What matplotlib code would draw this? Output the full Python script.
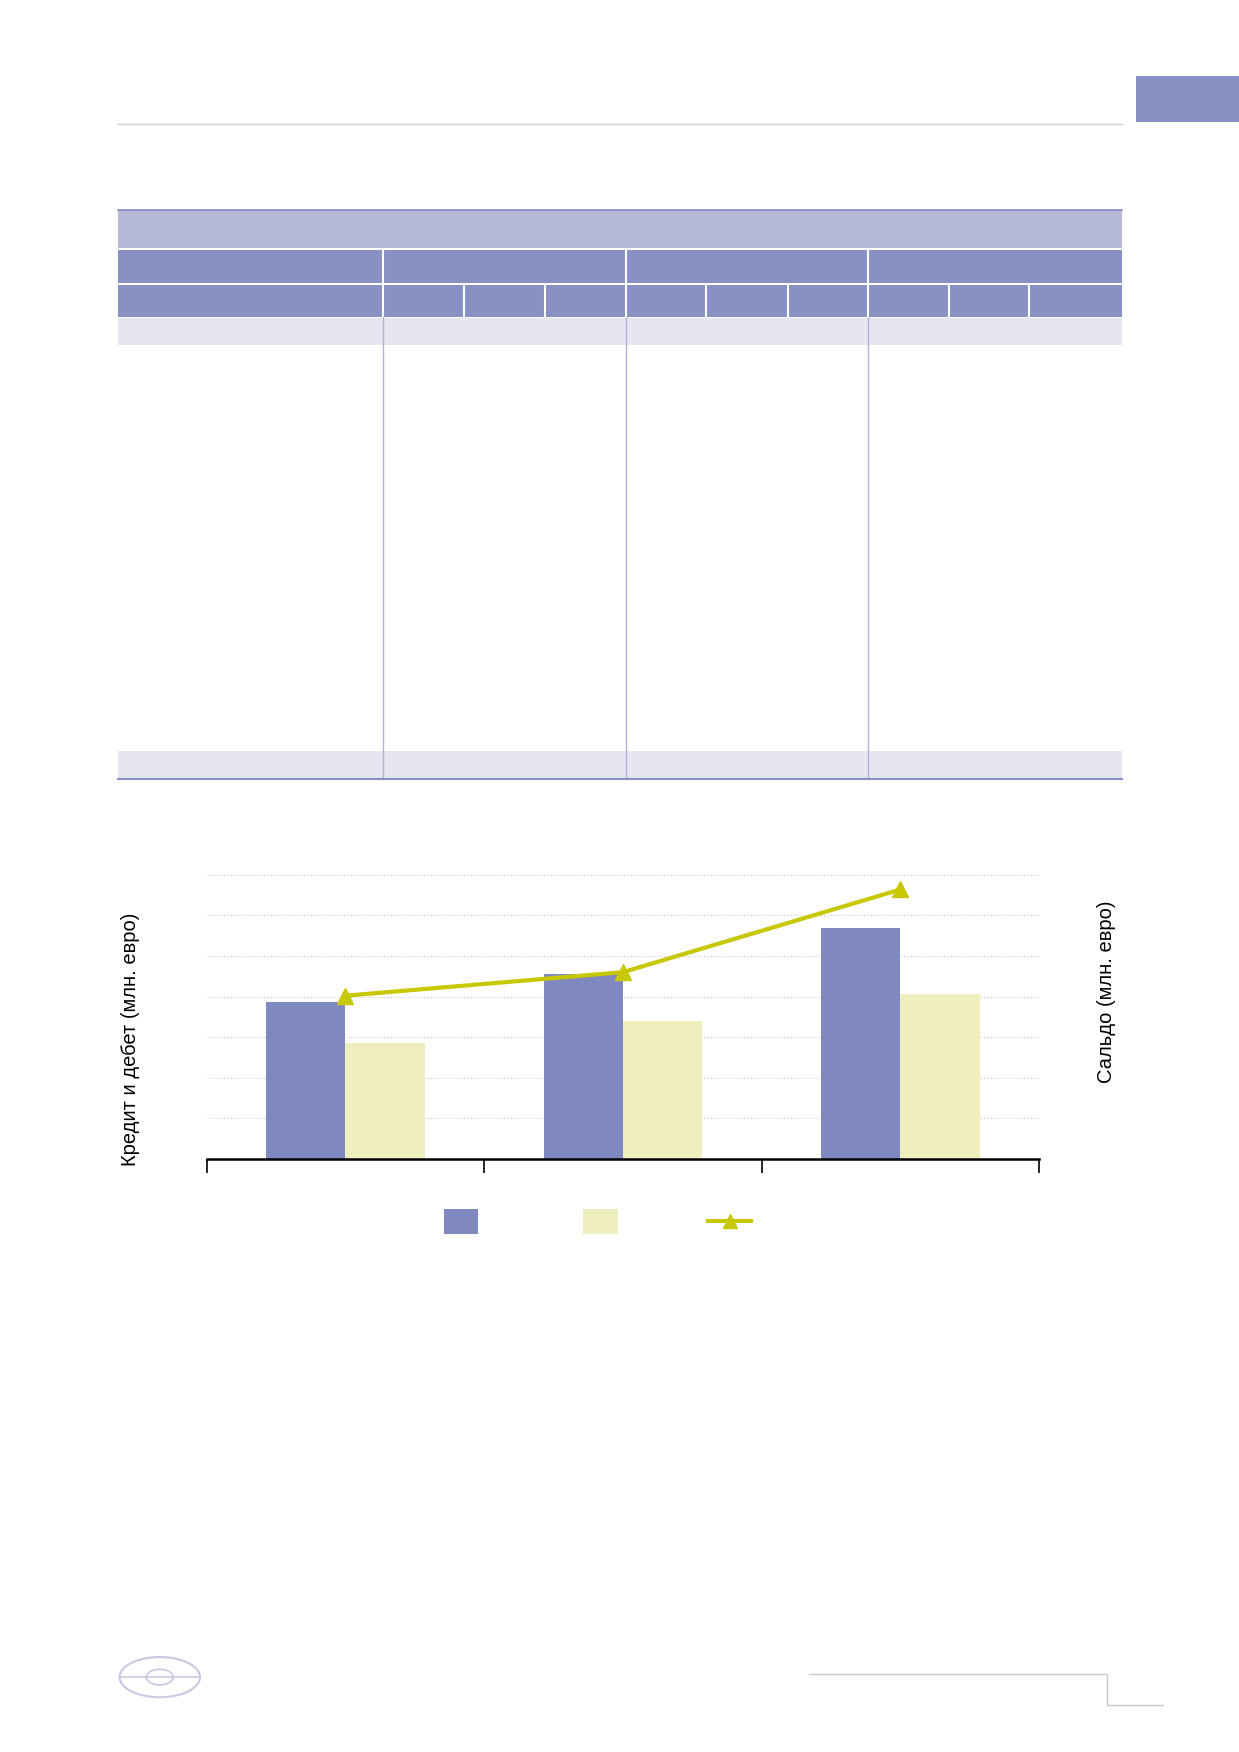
import matplotlib

matplotlib.use("Agg")

import matplotlib.pyplot as plt
from matplotlib.patches import Rectangle, Ellipse
import numpy as np

plt.rcParams["font.family"] = ["Liberation Sans", "DejaVu Sans"]

# data (units of the gridline steps)
CATEGORIES = ["1", "2", "3"]
CREDIT = [3.86, 4.55, 5.70]
DEBIT = [2.86, 3.39, 4.05]
BALANCE = [4.02, 4.60, 6.64]

BLUE = "#7f89bf"
YELLOW = "#eeeebe"
LINE = "#c8c800"
HEAD = "#8890c4"
HEAD_LIGHT = "#b6b8da"
ROW_LIGHT = "#e6e6f2"
GRID_V = "#b0b0d8"

W, H = 1109, 1568
fig = plt.figure(figsize=(12.39, 17.52), dpi=100)

# page overlay in reference pixel coords
pg = fig.add_axes([0, 0, 1, 1])
pg.set_xlim(0, W)
pg.set_ylim(H, 0)
pg.axis("off")

pg.plot([106, 1004], [111, 111], color="#d0d0d0", lw=1)
pg.add_patch(Rectangle((1017, 68), 92, 41, color=HEAD, lw=0))

# table
pg.add_patch(Rectangle((106, 188), 898, 34, color=HEAD_LIGHT, lw=0))
pg.plot([106, 1004], [188, 188], color=HEAD, lw=1.2)
pg.add_patch(Rectangle((106, 224), 898, 29, color=HEAD, lw=0))
pg.add_patch(Rectangle((106, 255), 898, 29, color=HEAD, lw=0))
for x in [343, 560, 777]:
    pg.plot([x, x], [224, 253], color="white", lw=1.5)
for x in [343, 415, 488, 560, 632, 705, 777, 849, 921]:
    pg.plot([x, x], [255, 284], color="white", lw=1.5)
pg.add_patch(Rectangle((106, 285), 898, 24, color=ROW_LIGHT, lw=0))
pg.add_patch(Rectangle((106, 672), 898, 25, color=ROW_LIGHT, lw=0))
for x in [343, 560, 777]:
    pg.plot([x, x], [284, 697], color=GRID_V, lw=1)
pg.plot([106, 1004], [697, 697], color=HEAD, lw=1.5)

# logo and footer
pg.add_patch(Ellipse((143, 1501), 72, 36, fill=False, ec="#c8c8e4", lw=1.5))
pg.add_patch(Ellipse((143, 1501), 24, 14, fill=False, ec="#c8c8e4", lw=1.2))
pg.plot([107, 179], [1501, 1501], color="#c8c8e4", lw=1.2)
pg.plot([724, 991, 991, 1041], [1498, 1498, 1526, 1526], color="#c8c8c8", lw=1)

# chart
ax = fig.add_axes([185 / W, 1 - 1037 / H, (930 - 185) / W, (1037 - 783) / H])
ax.set_xlim(0, 3)
ax.set_ylim(0, 7)
x = np.arange(len(CATEGORIES)) + 0.5
bw = 0.286
ax.bar(x - bw / 2, CREDIT, bw, color=BLUE, zorder=2)
ax.bar(x + bw / 2, DEBIT, bw, color=YELLOW, zorder=2)
for y in range(1, 8):
    ax.axhline(y, color="#c8c8c8", lw=0.8, ls=(0, (1, 2)), zorder=1)
ax.set_yticks([])
ax.set_xticks([0, 1, 2, 3])
ax.set_xticklabels([])
ax.tick_params(axis="x", direction="out", length=10, width=1.2, color="black")
for s in ["top", "right", "left"]:
    ax.spines[s].set_visible(False)
ax.spines["bottom"].set_linewidth(1.8)

ax2 = ax.twinx()
ax2.set_ylim(0, 7)
ax2.plot(x, BALANCE, color=LINE, lw=3, marker="^", ms=11, zorder=3)
ax2.axis("off")

fig.text(117 / W, 1 - 930 / H, "Кредит и дебет (млн. евро)", rotation=90,
         ha="center", va="center", fontsize=14.5)
fig.text(990 / W, 1 - 888 / H, "Сальдо (млн. евро)", rotation=90,
         ha="center", va="center", fontsize=14.5)

# legend
pg.add_patch(Rectangle((397, 1082), 31, 22, color=BLUE, lw=0))
pg.add_patch(Rectangle((522, 1082), 31, 22, color=YELLOW, lw=0))
pg.plot([634, 672], [1093, 1093], color=LINE, lw=3)
pg.plot([653], [1093], marker="^", color=LINE, ms=10)

fig.savefig("out.png", dpi=100)
